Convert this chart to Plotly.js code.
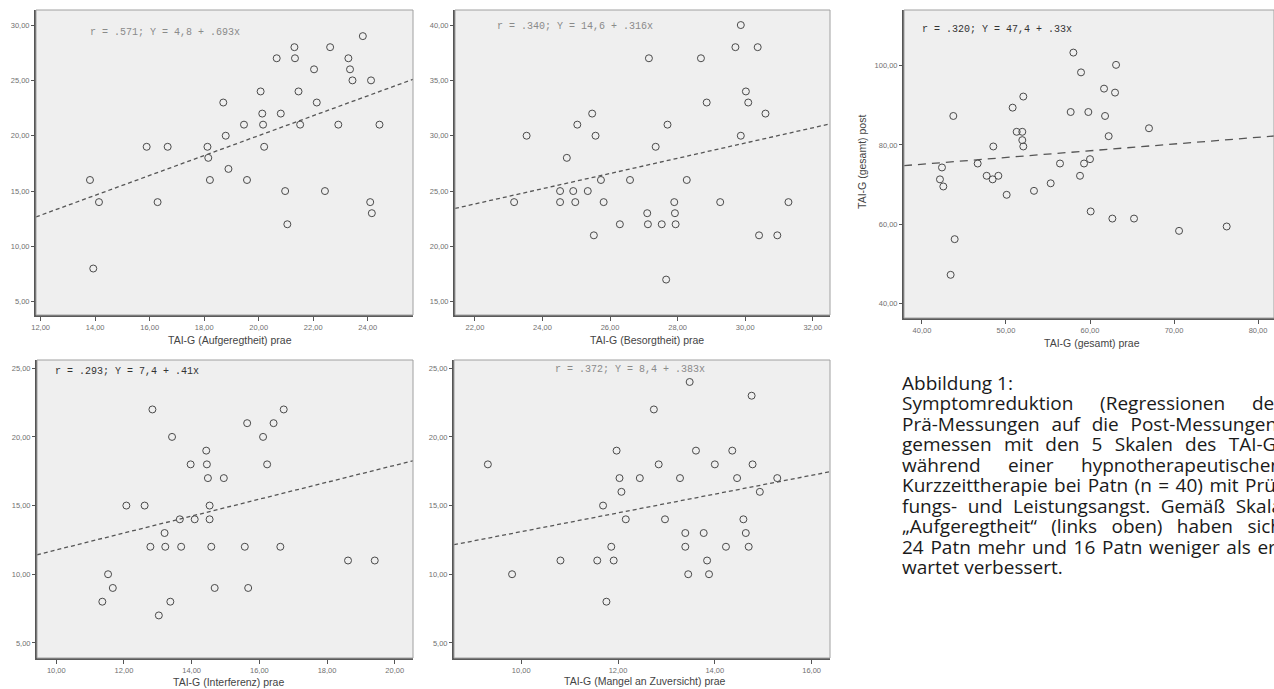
<!DOCTYPE html>
<html>
<head>
<meta charset="utf-8">
<script src="https://cdn.plot.ly/plotly-3.0.1.min.js"></script>
<style>
html,body{margin:0;padding:0;width:1274px;height:689px;overflow:hidden;background:#fff;}
#chart{position:absolute;left:0;top:0;width:1274px;height:689px;}
#caption{position:absolute;left:902px;top:373px;width:380px;font-family:"Open Sans","Noto Sans",sans-serif;font-size:19px;line-height:20.45px;color:#1a1a1a;}
#caption .j{text-align:justify;text-align-last:justify;white-space:nowrap;}
#caption .l{text-align:left;white-space:nowrap;}
</style>
</head>
<body>
<div id="chart"></div>
<div id="caption">
<div class="l">Abbildung 1:</div>
<div class="j">Symptomreduktion (Regressionen der</div>
<div class="j">Prä-Messungen auf die Post-Messungen,</div>
<div class="j">gemessen mit den 5 Skalen des TAI-G)</div>
<div class="j">während einer hypnotherapeutischen</div>
<div class="j">Kurzzeittherapie bei Patn (n = 40) mit Prü-</div>
<div class="j">fungs- und Leistungsangst. Gemäß Skala</div>
<div class="j">„Aufgeregtheit“ (links oben) haben sich</div>
<div class="j">24 Patn mehr und 16 Patn weniger als er-</div>
<div class="l">wartet verbessert.</div>
</div>
<script>
// ---------- DATA ----------
// Panel 1: TAI-G (Aufgeregtheit)
const aufX = [13.81,14.14,13.93,15.89,16.66,16.29,18.12,18.15,18.21,18.70,18.79,18.89,19.46,19.57,20.07,20.13,20.16,20.20,20.66,20.81,20.97,21.05,21.31,21.33,21.46,21.52,22.03,22.13,22.43,22.62,22.92,23.29,23.35,23.44,23.82,24.09,24.12,24.15,24.43];
const aufY = [16,14,8,19,19,14,19,18,16,23,20,17,21,16,24,22,21,19,27,22,15,12,28,27,24,21,26,23,15,28,21,27,26,25,29,14,25,13,21];
// Panel 2: TAI-G (Besorgtheit)
const besX = [23.16,23.53,24.52,24.52,24.72,24.91,24.97,25.03,25.34,25.47,25.52,25.57,25.73,25.81,26.29,26.59,27.10,27.12,27.15,27.35,27.53,27.66,27.70,27.90,27.92,27.94,28.27,28.69,28.86,29.26,29.71,29.87,29.87,30.02,30.09,30.37,30.41,30.60,30.95,31.28];
const besY = [24,30,25,24,28,25,24,31,25,32,21,30,26,24,22,26,23,22,37,29,22,17,31,24,23,22,26,37,33,24,38,40,30,34,33,38,21,32,21,24];
// Panel 3: TAI-G (gesamt)
const gesX = [43.73,42.38,42.14,42.54,43.89,43.41,46.63,47.70,48.49,48.41,49.09,50.08,50.79,51.27,51.94,51.94,52.06,52.06,53.33,55.32,56.43,57.70,58.02,58.81,58.93,59.29,59.80,60.00,60.08,61.67,61.79,62.22,62.66,62.98,63.10,65.24,67.02,70.60,76.27];
const gesY = [87.3,74.3,71.3,69.5,56.2,47.2,75.3,72.2,79.6,71.3,72.2,67.4,89.4,83.3,83.3,81.2,92.2,79.6,68.4,70.3,75.3,88.3,103.3,72.2,98.3,75.3,88.3,76.4,63.2,94.2,87.3,82.2,61.4,93.2,100.2,61.4,84.2,58.3,59.4];
// Panel 4: TAI-G (Interferenz)
const intX = [11.36,11.53,11.67,12.07,12.61,12.78,12.84,13.03,13.20,13.22,13.37,13.42,13.65,13.69,13.97,14.09,14.43,14.45,14.48,14.53,14.53,14.58,14.68,14.95,15.57,15.64,15.67,16.11,16.23,16.42,16.62,16.72,18.62,19.41];
const intY = [8,10,9,15,15,12,22,7,13,12,8,20,14,12,18,14,19,18,17,15,14,12,9,17,12,21,9,20,18,21,12,22,11,11];
// Panel 5: TAI-G (Mangel an Zuversicht)
const manX = [9.31,9.81,10.81,11.57,11.69,11.76,11.86,11.91,11.97,12.03,12.07,12.16,12.45,12.74,12.84,12.97,13.28,13.39,13.39,13.45,13.48,13.61,13.77,13.84,13.88,14.00,14.23,14.36,14.46,14.59,14.64,14.70,14.76,14.78,14.93,15.29];
const manY = [18,10,11,11,15,8,12,11,19,17,16,14,17,22,18,14,17,13,12,10,24,19,13,11,10,18,12,19,17,14,13,12,23,18,16,17];

// Regression lines (as drawn)
const fitIntercept = [2.03, 8.70, 68.32, 5.61, 6.26];
const fitSlope     = [0.899, 0.688, 0.170, 0.616, 0.684];
const fitLabels = [
  "r = .571; Y = 4,8 + .693x",
  "r = .340; Y = 14,6 + .316x",
  "r = .320; Y = 47,4 + .33x",
  "r = .293; Y = 7,4 + .41x",
  "r = .372; Y = 8,4 + .383x"
];
const xTitles = [
  "TAI-G (Aufgeregtheit) prae",
  "TAI-G (Besorgtheit) prae",
  "TAI-G (gesamt) prae",
  "TAI-G (Interferenz) prae",
  "TAI-G (Mangel an Zuversicht) prae"
];
const yTitle3 = "TAI-G (gesamt) post";

const xTickVals = [
  [12,14,16,18,20,22,24],
  [22,24,26,28,30,32],
  [40,50,60,70,80],
  [10,12,14,16,18,20],
  [10,12,14,16]
];
const xTickText = [
  ["12,00","14,00","16,00","18,00","20,00","22,00","24,00"],
  ["22,00","24,00","26,00","28,00","30,00","32,00"],
  ["40,00","50,00","60,00","70,00","80,00"],
  ["10,00","12,00","14,00","16,00","18,00","20,00"],
  ["10,00","12,00","14,00","16,00"]
];
const yTickVals = [
  [5,10,15,20,25,30],
  [15,20,25,30,35,40],
  [40,60,80,100],
  [5,10,15,20,25],
  [5,10,15,20,25]
];
const yTickText = [
  ["5,00","10,00","15,00","20,00","25,00","30,00"],
  ["15,00","20,00","25,00","30,00","35,00","40,00"],
  ["40,00","60,00","80,00","100,00"],
  ["5,00","10,00","15,00","20,00","25,00"],
  ["5,00","10,00","15,00","20,00","25,00"]
];

// ---------- LAYOUT CONFIG ----------
const W = 1274, H = 689;
const panels = [
  {x: aufX, y: aufY, box:[36,10,413,315],  xr:[11.83,25.66], yr:[3.8,31.36],  lab:[88,32],  labColor:'#8a8a8a', xt:[230,340]},
  {x: besX, y: besY, box:[455,10,830,315], xr:[21.41,32.51], yr:[13.8,41.36], lab:[495,27], labColor:'#8a8a8a', xt:[647,340]},
  {x: gesX, y: gesY, box:[904,10,1274,318],xr:[37.86,81.9],  yr:[36.3,114.05],lab:[920,29], labColor:'#333333', xt:[1092,343]},
  {x: intX, y: intY, box:[37,360,413,658], xr:[9.43,20.54],  yr:[3.9,25.6],   lab:[53,371], labColor:'#333333', xt:[228,682]},
  {x: manX, y: manY, box:[454,360,830,658],xr:[8.61,16.38],  yr:[3.9,25.6],   lab:[553,369],labColor:'#8a8a8a', xt:[645,681]}
];

const traces = [];
const layout = {
  width: W, height: H,
  margin: {l:0, r:0, t:0, b:0},
  paper_bgcolor: '#ffffff',
  plot_bgcolor: '#efefef',
  showlegend: false,
  shapes: [],
  annotations: []
};
const tickFont = {family: 'Liberation Sans, Arial, sans-serif', size: 7.5, color: '#707070'};

panels.forEach((p, i) => {
  const n = i + 1;
  const xa = 'x' + (n === 1 ? '' : n), ya = 'y' + (n === 1 ? '' : n);
  const xk = 'xaxis' + (n === 1 ? '' : n), yk = 'yaxis' + (n === 1 ? '' : n);
  const [l, t, r, b] = p.box;
  layout[xk] = {
    domain: [l / W, Math.min(1, r / W)], range: p.xr, anchor: ya,
    tickvals: xTickVals[i], ticktext: xTickText[i], tickfont: tickFont,
    ticks: 'outside', ticklen: 4, tickcolor: '#555', tickwidth: 1,
    showgrid: false, zeroline: false, showline: true, linecolor: '#5a5a5a', linewidth: 1.5,
    fixedrange: true
  };
  layout[yk] = {
    domain: [1 - b / H, 1 - t / H], range: p.yr, anchor: xa,
    tickvals: yTickVals[i], ticktext: yTickText[i], tickfont: tickFont,
    ticks: 'outside', ticklen: 3, tickcolor: '#555', tickwidth: 1,
    showgrid: false, zeroline: false, showline: true, linecolor: '#555', linewidth: 2,
    fixedrange: true
  };
  layout.shapes.push({type: 'rect', xref: 'paper', yref: 'paper',
    x0: l / W, x1: Math.min(1, r / W), y0: 1 - b / H, y1: 1 - t / H,
    line: {color: '#a0a0a0', width: 1}, layer: 'above'});

  traces.push({
    type: 'scatter', mode: 'markers', x: p.x, y: p.y, xaxis: xa, yaxis: ya,
    marker: {symbol: 'circle-open', size: 7, color: '#4a4a4a', line: {width: 1, color: '#4a4a4a'}},
    hoverinfo: 'skip'
  });
  const lx = [p.xr[0], p.xr[1]];
  traces.push({
    type: 'scatter', mode: 'lines', x: lx, y: lx.map(v => fitIntercept[i] + fitSlope[i] * v),
    xaxis: xa, yaxis: ya,
    line: {color: '#555555', width: 1.3, dash: i === 2 ? '8px,6px' : '4px,3px'},
    hoverinfo: 'skip'
  });
  layout.annotations.push({
    xref: 'paper', yref: 'paper', x: p.lab[0] / W, y: 1 - p.lab[1] / H,
    xanchor: 'left', yanchor: 'middle', showarrow: false, text: fitLabels[i],
    font: {family: 'Liberation Mono, DejaVu Sans Mono, monospace', size: 10, color: p.labColor}
  });
  layout.annotations.push({
    xref: 'paper', yref: 'paper', x: p.xt[0] / W, y: 1 - p.xt[1] / H,
    xanchor: 'center', yanchor: 'middle', showarrow: false, text: xTitles[i],
    font: {family: 'Liberation Sans, Arial, sans-serif', size: 10.5, color: '#444'}
  });
});
layout.annotations.push({
  xref: 'paper', yref: 'paper', x: 862 / W, y: 1 - 162 / H,
  xanchor: 'center', yanchor: 'middle', showarrow: false, textangle: -90, text: yTitle3,
  font: {family: 'Liberation Sans, Arial, sans-serif', size: 10.5, color: '#444'}
});

Plotly.newPlot('chart', traces, layout, {displayModeBar: false, staticPlot: true});
</script>
</body>
</html>
